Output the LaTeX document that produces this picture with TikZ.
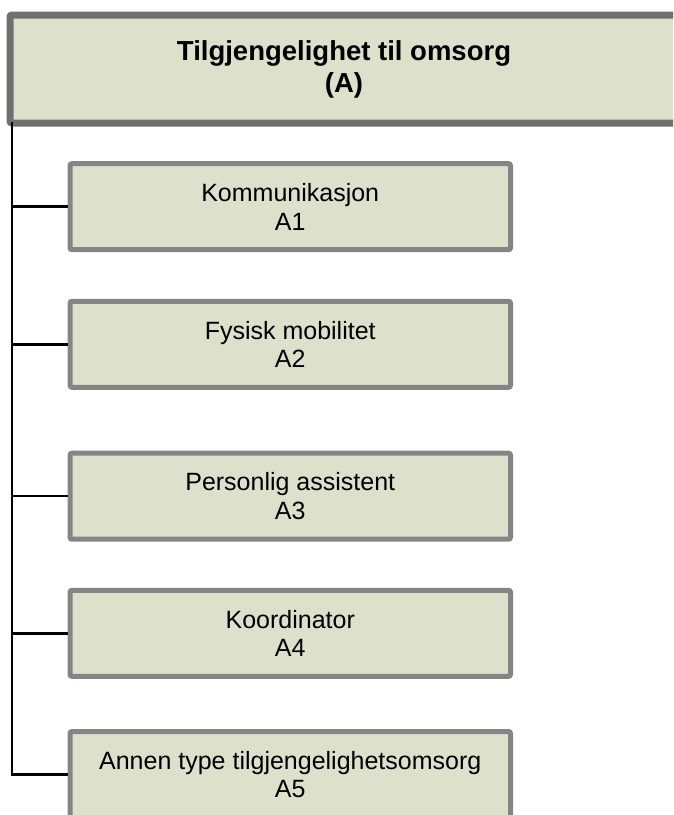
\documentclass[tikz,border=0pt]{standalone}
\usepackage{fontspec}
\setmainfont{Liberation Sans}
\definecolor{boxfill}{RGB}{221,224,203}
\definecolor{topborder}{RGB}{112,112,112}
\definecolor{subborder}{RGB}{133,133,133}
\tikzset{
  topbox/.style={draw=topborder, line width=7pt, fill=boxfill, rounded corners=2pt,
    minimum width=668pt, minimum height=108pt, inner sep=0pt, align=center,
    font=\fontsize{27.5}{32}\selectfont\bfseries},
  subbox/.style={draw=subborder, line width=5pt, fill=boxfill, rounded corners=2pt,
    minimum width=440.5pt, minimum height=86pt, inner sep=0pt, align=center,
    font=\fontsize{25}{28.5}\selectfont},
  conn/.style={draw=black, line width=2.5pt}
}
\begin{document}
\begin{tikzpicture}[x=1pt,y=-1pt]
\useasboundingbox (0,0) rectangle (673,815);
\clip (0,0) rectangle (673,815);
\node[topbox] (top) at (344,69) {Tilgjengelighet til omsorg\\(A)};
\node[subbox] (b1) at (290.25,206.7) {Kommunikasjon\\A1};
\node[subbox] (b2) at (290.25,344.3) {Fysisk mobilitet\\A2};
\node[subbox] (b3) at (290.25,496.2) {Personlig assistent\\A3};
\node[subbox] (b4) at (290.25,633.3) {Koordinator\\A4};
\node[subbox] (b5) at (290.25,774.5) {Annen type tilgjengelighetsomsorg\\A5};
\coordinate (trunk) at (12,122);
\draw[conn] (trunk) |- (b5.west);
\draw[conn] (trunk |- b1.west) -- (b1.west);
\draw[conn] (trunk |- b2.west) -- (b2.west);
\draw[conn] (trunk |- b3.west) -- (b3.west);
\draw[conn] (trunk |- b4.west) -- (b4.west);
\end{tikzpicture}
\end{document}
